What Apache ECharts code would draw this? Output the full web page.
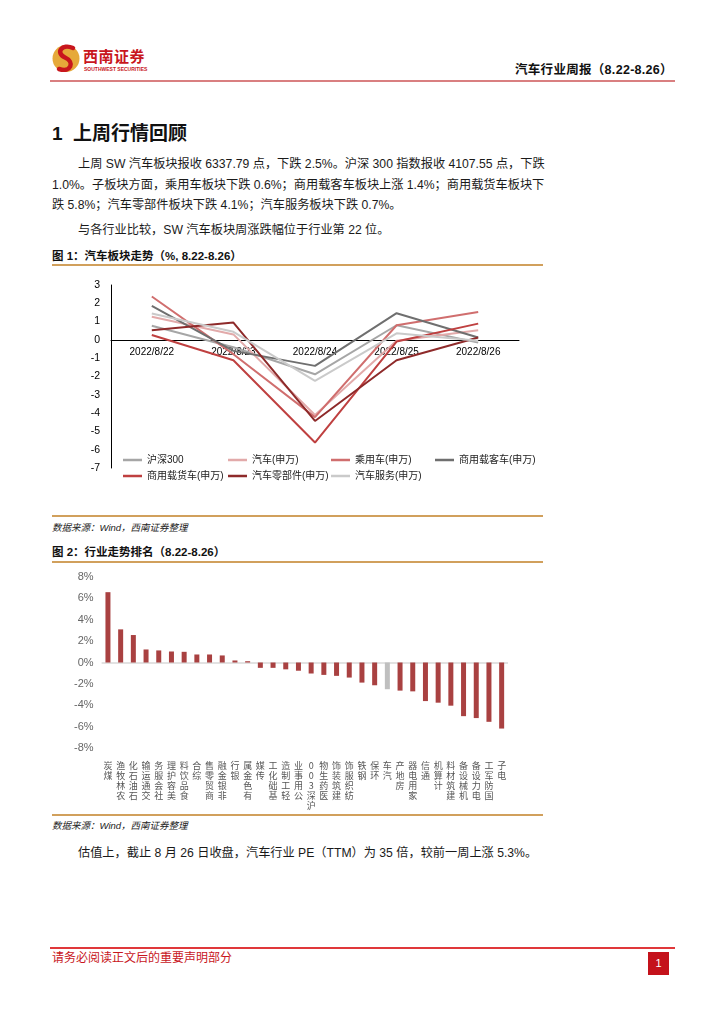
<!DOCTYPE html>
<html>
<head>
<meta charset="utf-8">
<script src="https://cdn.jsdelivr.net/npm/echarts@6/dist/echarts.min.js"></script>
<style>
  html, body { margin:0; padding:0; background:#fff; }
  body { width:724px; height:1024px; position:relative; overflow:hidden;
         font-family:"Liberation Sans","Noto Sans CJK SC",sans-serif; color:#111; }
  .abs { position:absolute; white-space:nowrap; }
  .jl { text-align:justify; text-align-last:justify; }
  .body { font-size:12.2px; line-height:16px; color:#1a1a1a; }
  .cap { font-size:11.5px; font-weight:bold; line-height:14px; }
  .src { font-size:9.5px; font-style:italic; line-height:12px; color:#222; }
  .oline { position:absolute; left:52px; width:491px; height:1.5px; background:#d1a05c; }
</style>
</head>
<body>
<!-- logo -->
<svg class="abs" style="left:50px;top:42px" width="34" height="34" viewBox="50 42 34 34">
  <circle cx="66" cy="58.5" r="13.5" fill="#e6a93a"/>
  <path d="M73 48 C62 43,55 53,65 57.5 C75 62,71 73,59 69" fill="none" stroke="#c8161d" stroke-width="4.5" stroke-linecap="round"/>
</svg>
<div class="abs" style="left:83px;top:47px;font-size:15px;font-weight:bold;color:#c8161d;letter-spacing:0.5px;line-height:18px;font-family:'Noto Sans CJK SC'">西南证券</div>
<div class="abs" style="left:84px;top:66px;font-size:5px;font-weight:bold;color:#c8161d;line-height:6px">SOUTHWEST SECURITIES</div>
<div class="abs" style="left:515px;top:63px;font-size:12.5px;font-weight:bold;line-height:15px;letter-spacing:0.3px">汽车行业周报（8.22-8.26）</div>
<div class="abs" style="left:50px;top:80px;width:625px;height:2px;background:#d97f80"></div>

<div class="abs" style="left:52px;top:122px;font-size:19px;font-weight:bold;line-height:24px">1&nbsp;&nbsp;上周行情回顾</div>

<div class="abs body jl" style="left:78px;top:156px;width:462px">上周 SW 汽车板块报收 6337.79 点，下跌 2.5%。沪深 300 指数报收 4107.55 点，下跌</div>
<div class="abs body jl" style="left:52px;top:177px;width:488px">1.0%。子板块方面，乘用车板块下跌 0.6%；商用载客车板块上涨 1.4%；商用载货车板块下</div>
<div class="abs body" style="left:52px;top:197px;">跌 5.8%；汽车零部件板块下跌 4.1%；汽车服务板块下跌 0.7%。</div>
<div class="abs body" style="left:78px;top:222px;">与各行业比较，SW 汽车板块周涨跌幅位于行业第 22 位。</div>

<div class="abs cap" style="left:52px;top:249px">图 1：汽车板块走势（%, 8.22-8.26）</div>
<div class="oline" style="top:264px"></div>
<div id="c1" class="abs" style="left:0;top:275px;width:724px;height:220px"></div>
<div class="oline" style="top:515px"></div>
<div class="abs src" style="left:52px;top:522px">数据来源：Wind，西南证券整理</div>

<div class="abs cap" style="left:52px;top:545px">图 2：行业走势排名（8.22-8.26）</div>
<div class="oline" style="top:561px"></div>
<div id="c2" class="abs" style="left:0;top:565px;width:724px;height:248px"></div>
<div class="oline" style="top:814px"></div>
<div class="abs src" style="left:52px;top:820px">数据来源：Wind，西南证券整理</div>

<div class="abs body" style="left:78px;top:845px">估值上，截止 8 月 26 日收盘，汽车行业 PE（TTM）为 35 倍，较前一周上涨 5.3%。</div>

<div class="abs" style="left:50px;top:947px;width:625px;height:1.5px;background:#e0383a"></div>
<div class="abs" style="left:52px;top:951px;font-size:12px;color:#c8161d;line-height:15px">请务必阅读正文后的重要声明部分</div>
<div class="abs" style="left:648px;top:952px;width:21px;height:23px;background:#c4121b;color:#fff;font-size:11px;line-height:23px;text-align:center">1</div>

<script>
// ---------- Chart 1 data ----------
var dates = ['2022/8/22','2022/8/23','2022/8/24','2022/8/25','2022/8/26'];
var hs300      = [0.77, -0.40, -1.88, 0.80, -0.15];
var qiche      = [1.26,  0.30, -4.10, -0.05, 0.53];
var chengyong  = [2.37, -0.78, -4.22, 0.80, 1.53];
var keche      = [1.86, -0.60, -1.42, 1.46, 0.13];
var huoche     = [0.27, -1.11, -5.61, -0.09, 0.89];
var lingbujian = [0.53,  0.95, -4.43, -1.11, 0.13];
var fuwu       = [1.44,  0.44, -2.24, 0.36, -0.05];
var seriesNames = ['沪深300','汽车(申万)','乘用车(申万)','商用载客车(申万)','商用载货车(申万)','汽车零部件(申万)','汽车服务(申万)'];
var seriesData = [hs300, qiche, chengyong, keche, huoche, lingbujian, fuwu];
var seriesColors = ['#a6a6a6','#e2aaaa','#d06e6e','#6f6f6f','#bf4040','#8e2a2a','#cacaca'];
var yMin1 = -7, yMax1 = 3;

// ---------- Chart 2 data ----------
var industries = ['煤炭','农林牧渔','石油石化','交通运输','社会服务','美容护理','食品饮料','综合','商贸零售','非银金融','银行','有色金属','传媒','基础化工','轻工制造','公用事业','沪深300','医药生物','建筑装饰','纺织服饰','钢铁','环保','汽车','房地产','家用电器','通信','计算机','建筑材料','机械设备','电力设备','国防军工','电子'];
var changes = [6.58, 3.10, 2.57, 1.22, 1.13, 1.03, 1.00, 0.75, 0.75, 0.66, 0.19, 0.12, -0.50, -0.50, -0.64, -0.77, -1.03, -1.16, -1.25, -1.41, -1.88, -2.13, -2.50, -2.63, -2.70, -3.61, -3.76, -4.04, -5.02, -5.20, -5.55, -6.18];
var highlight = '汽车';

var c1 = echarts.init(document.getElementById('c1'), null, {renderer:'canvas'});
var legendLefts = [123, 228, 331, 435, 123, 228, 331];
var legendTops = [180, 180, 180, 180, 196, 196, 196];
var legends = seriesNames.map(function(n, i){
  return { data:[n], left:legendLefts[i], top:legendTops[i], padding:0,
    icon:'rect', itemWidth:19, itemHeight:2.5,
    textStyle:{fontSize:10, color:'#222', fontFamily:'Liberation Sans, Noto Sans CJK SC'} };
});
var grid1H = 183;
var zeroOffset = grid1H * (0 - yMin1) / (yMax1 - yMin1);
c1.setOption({
  animation:false,
  grid:{left:111, width:408, top:10, height:grid1H, outerBoundsMode:'none', containLabel:false},
  legend: legends,
  xAxis:{type:'category', data:dates, boundaryGap:true, offset:-zeroOffset,
    axisLine:{onZero:false, lineStyle:{color:'#000', width:1}},
    axisTick:{show:false},
    axisLabel:{margin:7, fontSize:10, color:'#000', fontFamily:'Liberation Sans'}},
  yAxis:{type:'value', min:yMin1, max:yMax1, interval:1,
    axisLine:{show:true, lineStyle:{color:'#000', width:1}},
    axisTick:{show:false}, splitLine:{show:false},
    axisLabel:{margin:11, fontSize:10.5, color:'#000', fontFamily:'Liberation Sans'}},
  series: seriesNames.map(function(n, i){
    return {name:n, type:'line', data:seriesData[i], symbol:'none',
      lineStyle:{width:2, color:seriesColors[i]}, itemStyle:{color:seriesColors[i]}};
  })
});

var c2 = echarts.init(document.getElementById('c2'), null, {renderer:'canvas'});
c2.setOption({
  animation:false,
  grid:{left:101.6, width:406.4, top:12, height:171, outerBoundsMode:'none', containLabel:false},
  xAxis:{type:'category', data:industries,
    axisLine:{show:false, onZero:false}, axisTick:{show:false},
    axisLabel:{interval:0, margin:13, fontSize:9, lineHeight:10, color:'#555',
      fontFamily:'Noto Sans CJK SC',
      formatter:function(v){ return v.split('').reverse().join('\n'); }}},
  yAxis:{type:'value', min:-8, max:8, interval:2,
    axisLine:{show:false}, axisTick:{show:false}, splitLine:{show:false},
    axisLabel:{margin:8, fontSize:11, color:'#666', fontFamily:'Liberation Sans',
      formatter:function(v){ return v + '%'; }}},
  series:[{type:'bar', barWidth:5,
    data: changes.map(function(v, i){
      return {value:v, itemStyle:{color: industries[i] === highlight ? '#bfbfbf' : '#a94141'}};
    }),
    markLine:{silent:true, symbol:'none', label:{show:false},
      lineStyle:{color:'#d9d9d9', type:'solid', width:1.5},
      data:[{yAxis:0}], z:1}
  }]
});
</script>
</body>
</html>
